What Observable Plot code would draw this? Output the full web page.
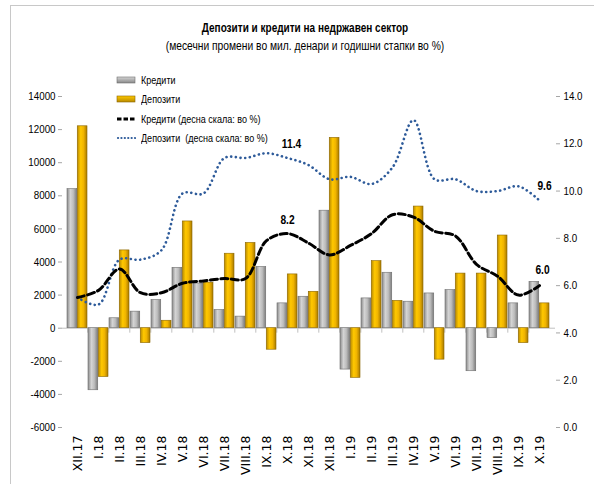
<!DOCTYPE html>
<html>
<head>
<meta charset="utf-8">
<script src="https://cdn.jsdelivr.net/npm/d3@7"></script>
<script src="https://cdn.jsdelivr.net/npm/@observablehq/plot@0.6"></script>
<style>
  html, body { margin: 0; padding: 0; background: #fff; }
  body { width: 594px; height: 484px; position: relative; overflow: hidden;
         font-family: "Liberation Sans", Arial, sans-serif; }
  #frame { position: absolute; left: 10px; top: 5px; width: 600px; height: 500px;
           border-top: 1px solid #c8c8c8; border-left: 1px solid #c8c8c8; }
  #title { position: absolute; left: 0; width: 610px; top: 20px; text-align: center;
           font-weight: bold; font-size: 13px; color: #000; transform: scaleX(0.77); transform-origin: 305px 0; }
  #subtitle { position: absolute; left: 0; width: 610px; top: 38px; text-align: center;
              font-size: 13px; color: #000; transform: scaleX(0.79); transform-origin: 305px 0; }
  #chart { position: absolute; left: 0; top: 60px; }
  #legend { position: absolute; left: 116px; top: 70px; font-size: 11px; color: #000; }
  #legend .row { height: 19.5px; display: flex; align-items: center; }
  #legend svg { margin-right: 5px; }
  #legend span { display: inline-block; transform: scaleX(0.82); transform-origin: 0 50%; white-space: pre; }
</style>
</head>
<body>
<div id="frame"></div>
<div id="title">Депозити и кредити на недржавен сектор</div>
<div id="subtitle">(месечни промени во мил. денари и годишни стапки во %)</div>
<div id="chart"></div>
<div id="legend"></div>
<script>
// ---- data ----
const categories = ["XII.17","I.18","II.18","III.18","IV.18","V.18","VI.18","VII.18","VIII.18","IX.18","X.18","XI.18","XII.18","I.19","II.19","III.19","IV.19","V.19","VI.19","VII.19","VIII.19","IX.19","X.19"];
const loansChange =    [8400,-3750,600,1000,1700,3650,2700,1100,700,3700,1500,1900,7100,-2500,1800,3350,1600,2100,2300,-2600,-600,1500,2800];
const depositsChange = [12200,-2950,4700,-900,450,6450,2750,4500,5150,-1300,3250,2200,11500,-3000,4050,1650,7350,-1900,3300,3300,5600,-900,1500];
const loansGrowth =    [5.5,5.8,6.7,5.7,5.7,6.1,6.2,6.3,6.3,7.9,8.2,7.8,7.3,7.7,8.2,9.0,8.9,8.3,8.1,6.9,6.4,5.6,6.0];
const depositsGrowth = [5.5,5.2,7.1,7.1,7.5,9.9,9.9,11.4,11.4,11.6,11.4,11.1,10.5,10.6,10.3,11.0,13.0,10.5,10.5,10.0,10.0,10.2,9.6];
const leftTicks = [-6000,-4000,-2000,0,2000,4000,6000,8000,10000,12000,14000];
const rightTicks = [0,2,4,6,8,10,12,14];
const seriesNames = ["Кредити","Депозити","Кредити (десна скала: во %)","Депозити  (десна скала: во %)"];

// ---- build rows ----
const rows = categories.map((c, i) => ({
  cat: c, loans: loansChange[i], deposits: depositsChange[i],
  loansPct: loansGrowth[i], depositsPct: depositsGrowth[i]
}));
const L0 = -6000, L1 = 14000, R0 = 0, R1 = 14;
const toLeft = p => L0 + (p - R0) * (L1 - L0) / (R1 - R0);
const toRight = v => R0 + (v - L0) * (R1 - R0) / (L1 - L0);

const W = 594, H = 424;
const mL = 62, mR = 39, mT = 36, mB = 57;
const pad = 0.04;
const step = (W - mL - mR) / (categories.length + pad);
const bw = step * (1 - pad);
const half = bw / 2;

const font = `"Liberation Sans", Arial, sans-serif`;
const rowAt = c => rows.filter(d => d.cat === c);

const plot = Plot.plot({
  width: W, height: H,
  marginLeft: mL, marginRight: mR, marginTop: mT, marginBottom: mB,
  style: { fontFamily: font, fontSize: "11px", background: "transparent", overflow: "visible" },
  x: { domain: categories, padding: pad, axis: null, label: null },
  y: { domain: [L0, L1], axis: null, label: null },
  marks: [
    Plot.axisY(leftTicks, { anchor: "left", tickFormat: d => String(d), tickSize: 4, tickPadding: 3,
      stroke: "#a6a6a6", fill: "#000", fontSize: 11.5, line: true, label: null }),
    Plot.axisY(rightTicks.map(toLeft), { anchor: "right", tickFormat: d => toRight(d).toFixed(1),
      tickSize: 4, tickPadding: 4, stroke: "#a6a6a6", fill: "#000", fontSize: 11.5, line: true, label: null }),
    Plot.axisX({ anchor: "bottom", tickRotate: -90, tickSize: 0, tickPadding: 8, label: null,
      fontSize: 12.5, fontFamily: "DejaVu Sans", fill: "#000" }),
    Plot.ruleY([0], { stroke: "#c0c0c0" }),
    Plot.ruleX(categories.slice(1), { x: d => d, y1: 0, y2: -300, dx: -step / 2, stroke: "#c0c0c0" }),
    Plot.barY(rows, { x: "cat", y: "loans", insetRight: half, fill: "url(#gradGray)", stroke: "#6e6e6e", strokeWidth: 0.6 }),
    Plot.barY(rows, { x: "cat", y: "deposits", insetLeft: half, fill: "url(#gradGold)", stroke: "#8a6500", strokeWidth: 0.6 }),
    Plot.line(rows, { x: "cat", y: d => toLeft(d.depositsPct), curve: "catmull-rom",
      stroke: "#2e5b9a", strokeWidth: 2.6, strokeDasharray: "0.1,4.6", strokeLinecap: "round" }),
    Plot.line(rows, { x: "cat", y: d => toLeft(d.loansPct), curve: "catmull-rom",
      stroke: "#000", strokeWidth: 3, strokeDasharray: "7,3.5" }),
    Plot.text(rowAt("X.18"), { x: "cat", y: d => toLeft(d.depositsPct), text: d => d.depositsPct.toFixed(1),
      dy: -14, dx: 4, fontWeight: "bold", fontSize: 12, fill: "#000" }),
    Plot.text(rowAt("X.18"), { x: "cat", y: d => toLeft(d.loansPct), text: d => d.loansPct.toFixed(1),
      dy: -13, dx: 0, fontWeight: "bold", fontSize: 12, fill: "#000" }),
    Plot.text(rowAt("X.19"), { x: "cat", y: d => toLeft(d.depositsPct), text: d => d.depositsPct.toFixed(1),
      dy: -14, dx: 5, fontWeight: "bold", fontSize: 12, fill: "#000" }),
    Plot.text(rowAt("X.19"), { x: "cat", y: d => toLeft(d.loansPct), text: d => d.loansPct.toFixed(1),
      dy: -15, dx: 3, fontWeight: "bold", fontSize: 12, fill: "#000" })
  ]
});

plot.insertAdjacentHTML("afterbegin", `
<defs>
  <linearGradient id="gradGray" x1="0" x2="1" y1="0" y2="0">
    <stop offset="0" stop-color="#8a8a8a"/>
    <stop offset="0.35" stop-color="#d4d4d4"/>
    <stop offset="0.65" stop-color="#bdbdbd"/>
    <stop offset="1" stop-color="#7c7c7c"/>
  </linearGradient>
  <linearGradient id="gradGold" x1="0" x2="1" y1="0" y2="0">
    <stop offset="0" stop-color="#b88a00"/>
    <stop offset="0.35" stop-color="#ffc800"/>
    <stop offset="0.65" stop-color="#f0b400"/>
    <stop offset="1" stop-color="#a87a00"/>
  </linearGradient>
</defs>`);
document.getElementById("chart").appendChild(plot);

// condense the numeric tick labels and data labels slightly, like the original narrow font
plot.querySelectorAll("text").forEach(t => {
  const s = t.textContent;
  if (/^[-0-9.]+$/.test(s) && !t.closest("[aria-label='x-axis tick label']")) {
    const len = t.getComputedTextLength();
    if (len > 0) { t.setAttribute("textLength", (len * 0.85).toFixed(1)); t.setAttribute("lengthAdjust", "spacingAndGlyphs"); }
  }
});

// ---- legend ----
const swatches = [
  `<svg width="20" height="8"><rect x="1" y="1" width="18" height="6" fill="url(#lgGray)" stroke="#6e6e6e" stroke-width="0.6"/><defs><linearGradient id="lgGray" x1="0" x2="0" y1="0" y2="1"><stop offset="0" stop-color="#d4d4d4"/><stop offset="1" stop-color="#888"/></linearGradient></defs></svg>`,
  `<svg width="20" height="8"><rect x="1" y="1" width="18" height="6" fill="url(#lgGold)" stroke="#8a6500" stroke-width="0.6"/><defs><linearGradient id="lgGold" x1="0" x2="0" y1="0" y2="1"><stop offset="0" stop-color="#ffc800"/><stop offset="1" stop-color="#b88a00"/></linearGradient></defs></svg>`,
  `<svg width="20" height="8"><line x1="1" x2="19" y1="4" y2="4" stroke="#000" stroke-width="3" stroke-dasharray="4.5,2"/></svg>`,
  `<svg width="20" height="8"><line x1="2" x2="19" y1="4" y2="4" stroke="#2e5b9a" stroke-width="2.2" stroke-dasharray="0.1,3.3" stroke-linecap="round"/></svg>`
];
const legend = document.getElementById("legend");
seriesNames.forEach((name, i) => {
  const row = document.createElement("div");
  row.className = "row";
  row.innerHTML = swatches[i] + `<span>${name}</span>`;
  legend.appendChild(row);
});
</script>
</body>
</html>
